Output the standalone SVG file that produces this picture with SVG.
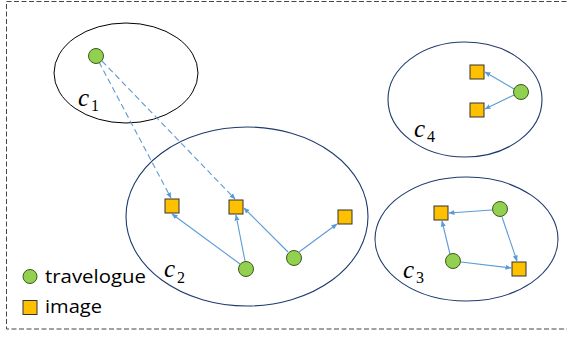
<svg xmlns="http://www.w3.org/2000/svg" width="567" height="337" viewBox="0 0 567 337">
  <style>
    .frame { fill: none; stroke: #444; stroke-width: 1; stroke-dasharray: 5 2.5; }
    .cluster { fill: none; stroke: #1f3a6e; stroke-width: 1.1; }
    .cluster-black { fill: none; stroke: #000; stroke-width: 1; }
    .trav { fill: #92d050; stroke: #3a5a1a; stroke-width: 1; }
    .img { fill: #ffc000; stroke: #333; stroke-width: 1; }
    .edge { fill: none; stroke: #5b9bd5; stroke-width: 1.1; marker-end: url(#arrow); }
    .dashed { stroke-dasharray: 6 3.5; }
    .lbl { font-family: "Liberation Serif", serif; font-style: italic; font-size: 25px; fill: #000; }
    .sub { font-family: "Liberation Serif", serif; font-size: 16px; fill: #000; }
    .legend { font-family: "Open Sans", "Liberation Sans", sans-serif; font-size: 19px; fill: #000; }
  </style>
  <defs>
    <marker id="arrow" markerWidth="6" markerHeight="6" refX="5.5" refY="3" orient="auto" markerUnits="userSpaceOnUse">
      <path d="M0,0.5 L6,3 L0,5.5 Z" fill="#5b9bd5"/>
    </marker>
  </defs>

  <!-- outer dashed frame -->
  <rect class="frame" x="6.5" y="1.5" width="580" height="327.5"/>

  <!-- clusters -->
  <g id="cluster-c1">
    <ellipse class="cluster-black" cx="126" cy="73" rx="72" ry="50"/>
    <text class="lbl" x="78" y="106">c</text><text class="sub" x="91" y="111">1</text>
  </g>
  <g id="cluster-c2">
    <ellipse class="cluster" cx="247" cy="216.5" rx="121" ry="89.5"/>
    <text class="lbl" x="164" y="277">c</text><text class="sub" x="177" y="283">2</text>
  </g>
  <g id="cluster-c4">
    <ellipse class="cluster" cx="465" cy="99.5" rx="77" ry="57.5"/>
    <text class="lbl" x="414" y="137">c</text><text class="sub" x="427" y="142">4</text>
  </g>
  <g id="cluster-c3">
    <ellipse class="cluster" cx="466.5" cy="239" rx="91.5" ry="62"/>
    <text class="lbl" x="403" y="278">c</text><text class="sub" x="416" y="283">3</text>
  </g>

  <!-- connectors -->
  <g id="connectors">
    <line class="edge dashed" x1="99" y1="62" x2="171" y2="198"/>
    <line class="edge dashed" x1="102" y1="61" x2="235" y2="199"/>
    <line class="edge" x1="240" y1="264" x2="172" y2="214"/>
    <line class="edge" x1="245" y1="261" x2="236" y2="215"/>
    <line class="edge" x1="288" y1="252" x2="244" y2="208"/>
    <line class="edge" x1="299" y1="252" x2="337" y2="224"/>
    <line class="edge" x1="514" y1="89" x2="485" y2="72"/>
    <line class="edge" x1="514" y1="95" x2="485" y2="109"/>
    <line class="edge" x1="492" y1="210" x2="449" y2="213"/>
    <line class="edge" x1="502" y1="217" x2="517" y2="261"/>
    <line class="edge" x1="450" y1="254" x2="442" y2="221"/>
    <line class="edge" x1="461" y1="262" x2="511" y2="268"/>
  </g>

  <!-- travelogue nodes -->
  <g id="t1"><circle class="trav" cx="96" cy="56" r="7.5"/></g>
  <g id="t2"><circle class="trav" cx="246" cy="269" r="7.5"/></g>
  <g id="t3"><circle class="trav" cx="294" cy="258" r="7.5"/></g>
  <g id="t4"><circle class="trav" cx="521" cy="92" r="7.5"/></g>
  <g id="t5"><circle class="trav" cx="500" cy="209" r="7.5"/></g>
  <g id="t6"><circle class="trav" cx="453" cy="261" r="7.5"/></g>

  <!-- image nodes -->
  <g id="i1"><rect class="img" x="165" y="199" width="14" height="14"/></g>
  <g id="i2"><rect class="img" x="229" y="200" width="14" height="14"/></g>
  <g id="i3"><rect class="img" x="338" y="210" width="14" height="14"/></g>
  <g id="i4"><rect class="img" x="470" y="65" width="14" height="14"/></g>
  <g id="i5"><rect class="img" x="470" y="103" width="14" height="14"/></g>
  <g id="i6"><rect class="img" x="434" y="206" width="14" height="14"/></g>
  <g id="i7"><rect class="img" x="512" y="262" width="14" height="14"/></g>

  <!-- legend -->
  <g id="legend">
    <circle class="trav" cx="30" cy="276.5" r="7"/>
    <text class="legend" x="45" y="283" textLength="101" lengthAdjust="spacingAndGlyphs">travelogue</text>
    <rect class="img" x="23" y="300.5" width="14" height="14"/>
    <text class="legend" x="45" y="313" textLength="57" lengthAdjust="spacingAndGlyphs">image</text>
  </g>
</svg>
